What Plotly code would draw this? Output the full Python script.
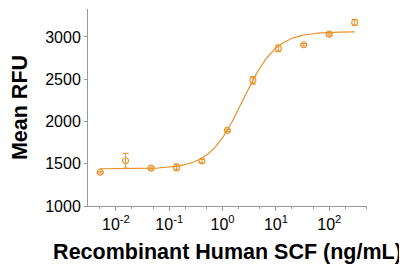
import numpy as np
import plotly.graph_objects as go

conc = [0.00508, 0.0152, 0.0457, 0.137, 0.41, 1.23, 3.7, 11.1, 33.3, 100, 300]
rfu = [1400, 1535, 1448, 1457, 1532, 1895, 2486, 2864, 2907, 3033, 3171]
err = [10, 88, 12, 40, 20, 12, 45, 40, 15, 12, 35]

# 4PL fit parameters (bottom, top, EC50, hill)
fit_bottom, fit_top, fit_ec50, fit_hill = 1440, 3062, 2.4, 1.4

tick_vals = [0.01, 0.1, 1, 10, 100]
tick_text = ["10<sup>-2</sup>", "10<sup>-1</sup>", "10<sup>0</sup>", "10<sup>1</sup>", "10<sup>2</sup>"]
y_ticks = [1000, 1500, 2000, 2500, 3000]

orange = "#E8922A"

xc = np.logspace(np.log10(conc[0]), np.log10(conc[-1]), 300)
yc = fit_bottom + (fit_top - fit_bottom) / (1 + (fit_ec50 / xc) ** fit_hill)

fig = go.Figure()
fig.add_trace(go.Scatter(x=xc, y=yc, mode="lines",
                         line=dict(color=orange, width=1.2), hoverinfo="skip"))
fig.add_trace(go.Scatter(x=conc, y=rfu, mode="markers",
                         marker=dict(symbol="circle-open", size=6, color=orange,
                                     line=dict(width=1.2, color=orange)),
                         error_y=dict(type="data", array=err, color=orange,
                                      thickness=1, width=3)))

# page body has an 8px margin, so the figure is sized/offset to compensate
fig.update_layout(
    width=399, height=260,
    margin=dict(l=80, r=40, t=1, b=62),
    paper_bgcolor="white", plot_bgcolor="white",
    showlegend=False,
    font=dict(family="Arial, Liberation Sans, sans-serif", color="black"),
)
fig.update_xaxes(
    type="log", range=[np.log10(0.0030), np.log10(510)],
    tickvals=tick_vals, ticktext=tick_text,
    tickfont=dict(size=16),
    showline=True, linecolor="#999999", linewidth=1,
    ticks="outside", ticklen=4, tickcolor="#999999",
    minor=dict(ticks="outside", ticklen=2, tickcolor="#999999", showgrid=False),
    showgrid=False, zeroline=False, automargin=False,
    title=dict(text="<b>Recombinant Human SCF (ng/mL)</b>", font=dict(size=21.5), standoff=11),
)
fig.update_yaxes(
    range=[1000, 3330],
    tickvals=y_ticks,
    tickfont=dict(size=16),
    showline=True, linecolor="#999999", linewidth=1,
    ticks="outside", ticklen=3, tickcolor="#999999",
    showgrid=False, zeroline=False, automargin=False,
    title=dict(text="<b>Mean RFU</b>", font=dict(size=21.5), standoff=11),
)

fig.write_html("out.html")
